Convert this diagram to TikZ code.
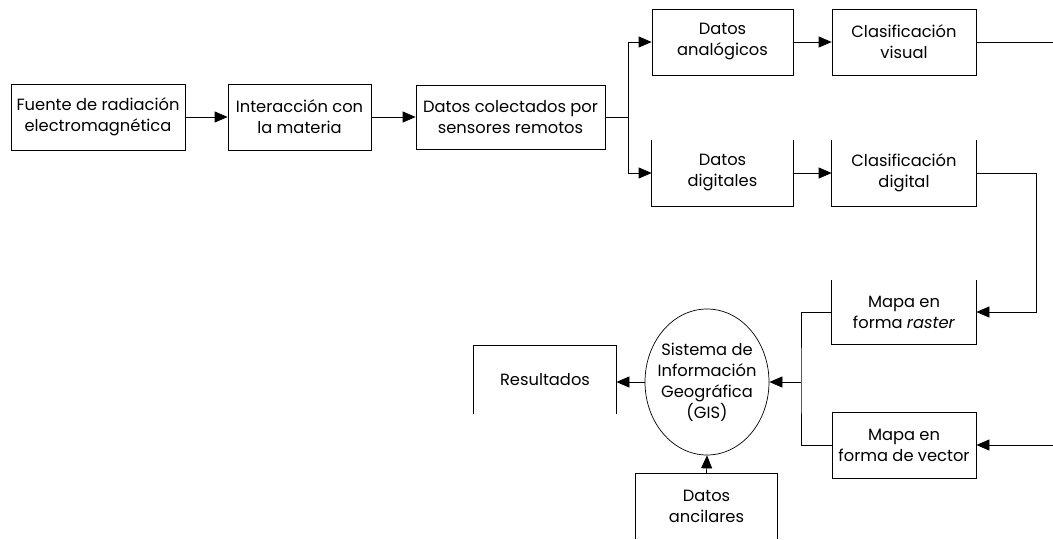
\documentclass[tikz,border=0pt]{standalone}
\usepackage{fontspec}
\setmainfont{Poppins}
\usetikzlibrary{arrows.meta,shapes.geometric}
\begin{document}
\begin{tikzpicture}[x=1pt,y=-1pt,line width=0.7pt,
  box/.style={rectangle,inner sep=0pt,align=center,font=\fontsize{16.3}{21}\selectfont},
  framed/.style={box,draw},
  conn/.style={-{Triangle[length=13pt,width=11pt]}}]
\useasboundingbox (0,0) rectangle (1053,539);
% nodes
\node[framed,minimum width=174pt,minimum height=66pt] (fuente) at (98,117) {Fuente de radiación\\electromagnética};
\node[framed,minimum width=143pt,minimum height=66pt] (inter) at (299.5,117) {Interacción con\\la materia};
\node[framed,minimum width=189pt,minimum height=64pt] (datos) at (510.5,117) {Datos colectados por\\sensores remotos};
\node[framed,minimum width=141pt,minimum height=66pt] (analog) at (722.5,42) {Datos\\analógicos};
\node[framed,minimum width=144pt,minimum height=66pt] (visual) at (904,42) {Clasificación\\visual};
\node[box,minimum width=141pt,minimum height=66pt] (digital) at (722.5,173) {Datos\\digitales};
\node[box,minimum width=144pt,minimum height=66pt] (clasdig) at (904,173) {Clasificación\\digital};
\node[box,minimum width=144pt,minimum height=64pt] (raster) at (904,312) {Mapa en\\forma \textit{raster}};
\node[framed,minimum width=144pt,minimum height=66pt] (vector) at (904,445) {Mapa en\\forma de vector};
\node[box,draw,ellipse,inner xsep=-7pt,inner ysep=0pt,minimum width=124pt,minimum height=146pt] (gis) at (707,382) {Sistema de\\Información\\Geográfica\\(GIS)};
\node[box,minimum width=142pt,minimum height=68pt] (result) at (545,380) {Resultados};
\node[box,minimum width=141pt,minimum height=65pt] (ancil) at (706.5,506.5) {Datos\\ancilares};
% partial borders
\draw (digital.north west) |- (digital.south east) -- (digital.north east);
\draw (clasdig.north west) |- (clasdig.south east) -- (clasdig.north east);
\draw (raster.north west) |- (raster.south east) -- (raster.north east);
\draw (result.south west) |- (result.north east) -- (result.south east);
\draw (ancil.south west) |- (ancil.north east) -- (ancil.south east);
% coordinates
\coordinate (split) at (628,117);
\coordinate (vout) at (1053,42);
\coordinate (vin) at (1053,445);
\coordinate (bus) at (801,382);
% connectors
\draw[conn] (fuente.east) -- (inter.west);
\draw[conn] (inter.east) -- (datos.west);
\draw (datos.east) -- (split);
\draw[conn] (split) |- (analog.west);
\draw[conn] (split) |- (digital.west);
\draw[conn] (analog.east) -- (visual.west);
\draw (visual.east) -- (vout);
\draw[conn] (digital.east) -- (clasdig.west);
\draw[conn] (clasdig.east) -- ++(60,0) |- (raster.east);
\draw[conn] (vin) -- (vector.east);
\draw (raster.west) -| (bus) |- (vector.west);
\draw[conn] (bus) -- (gis.east);
\draw[conn] (gis.west) -- (gis.west -| result.east);
\draw[conn] (ancil.north) -- (gis.south);
\end{tikzpicture}
\end{document}
